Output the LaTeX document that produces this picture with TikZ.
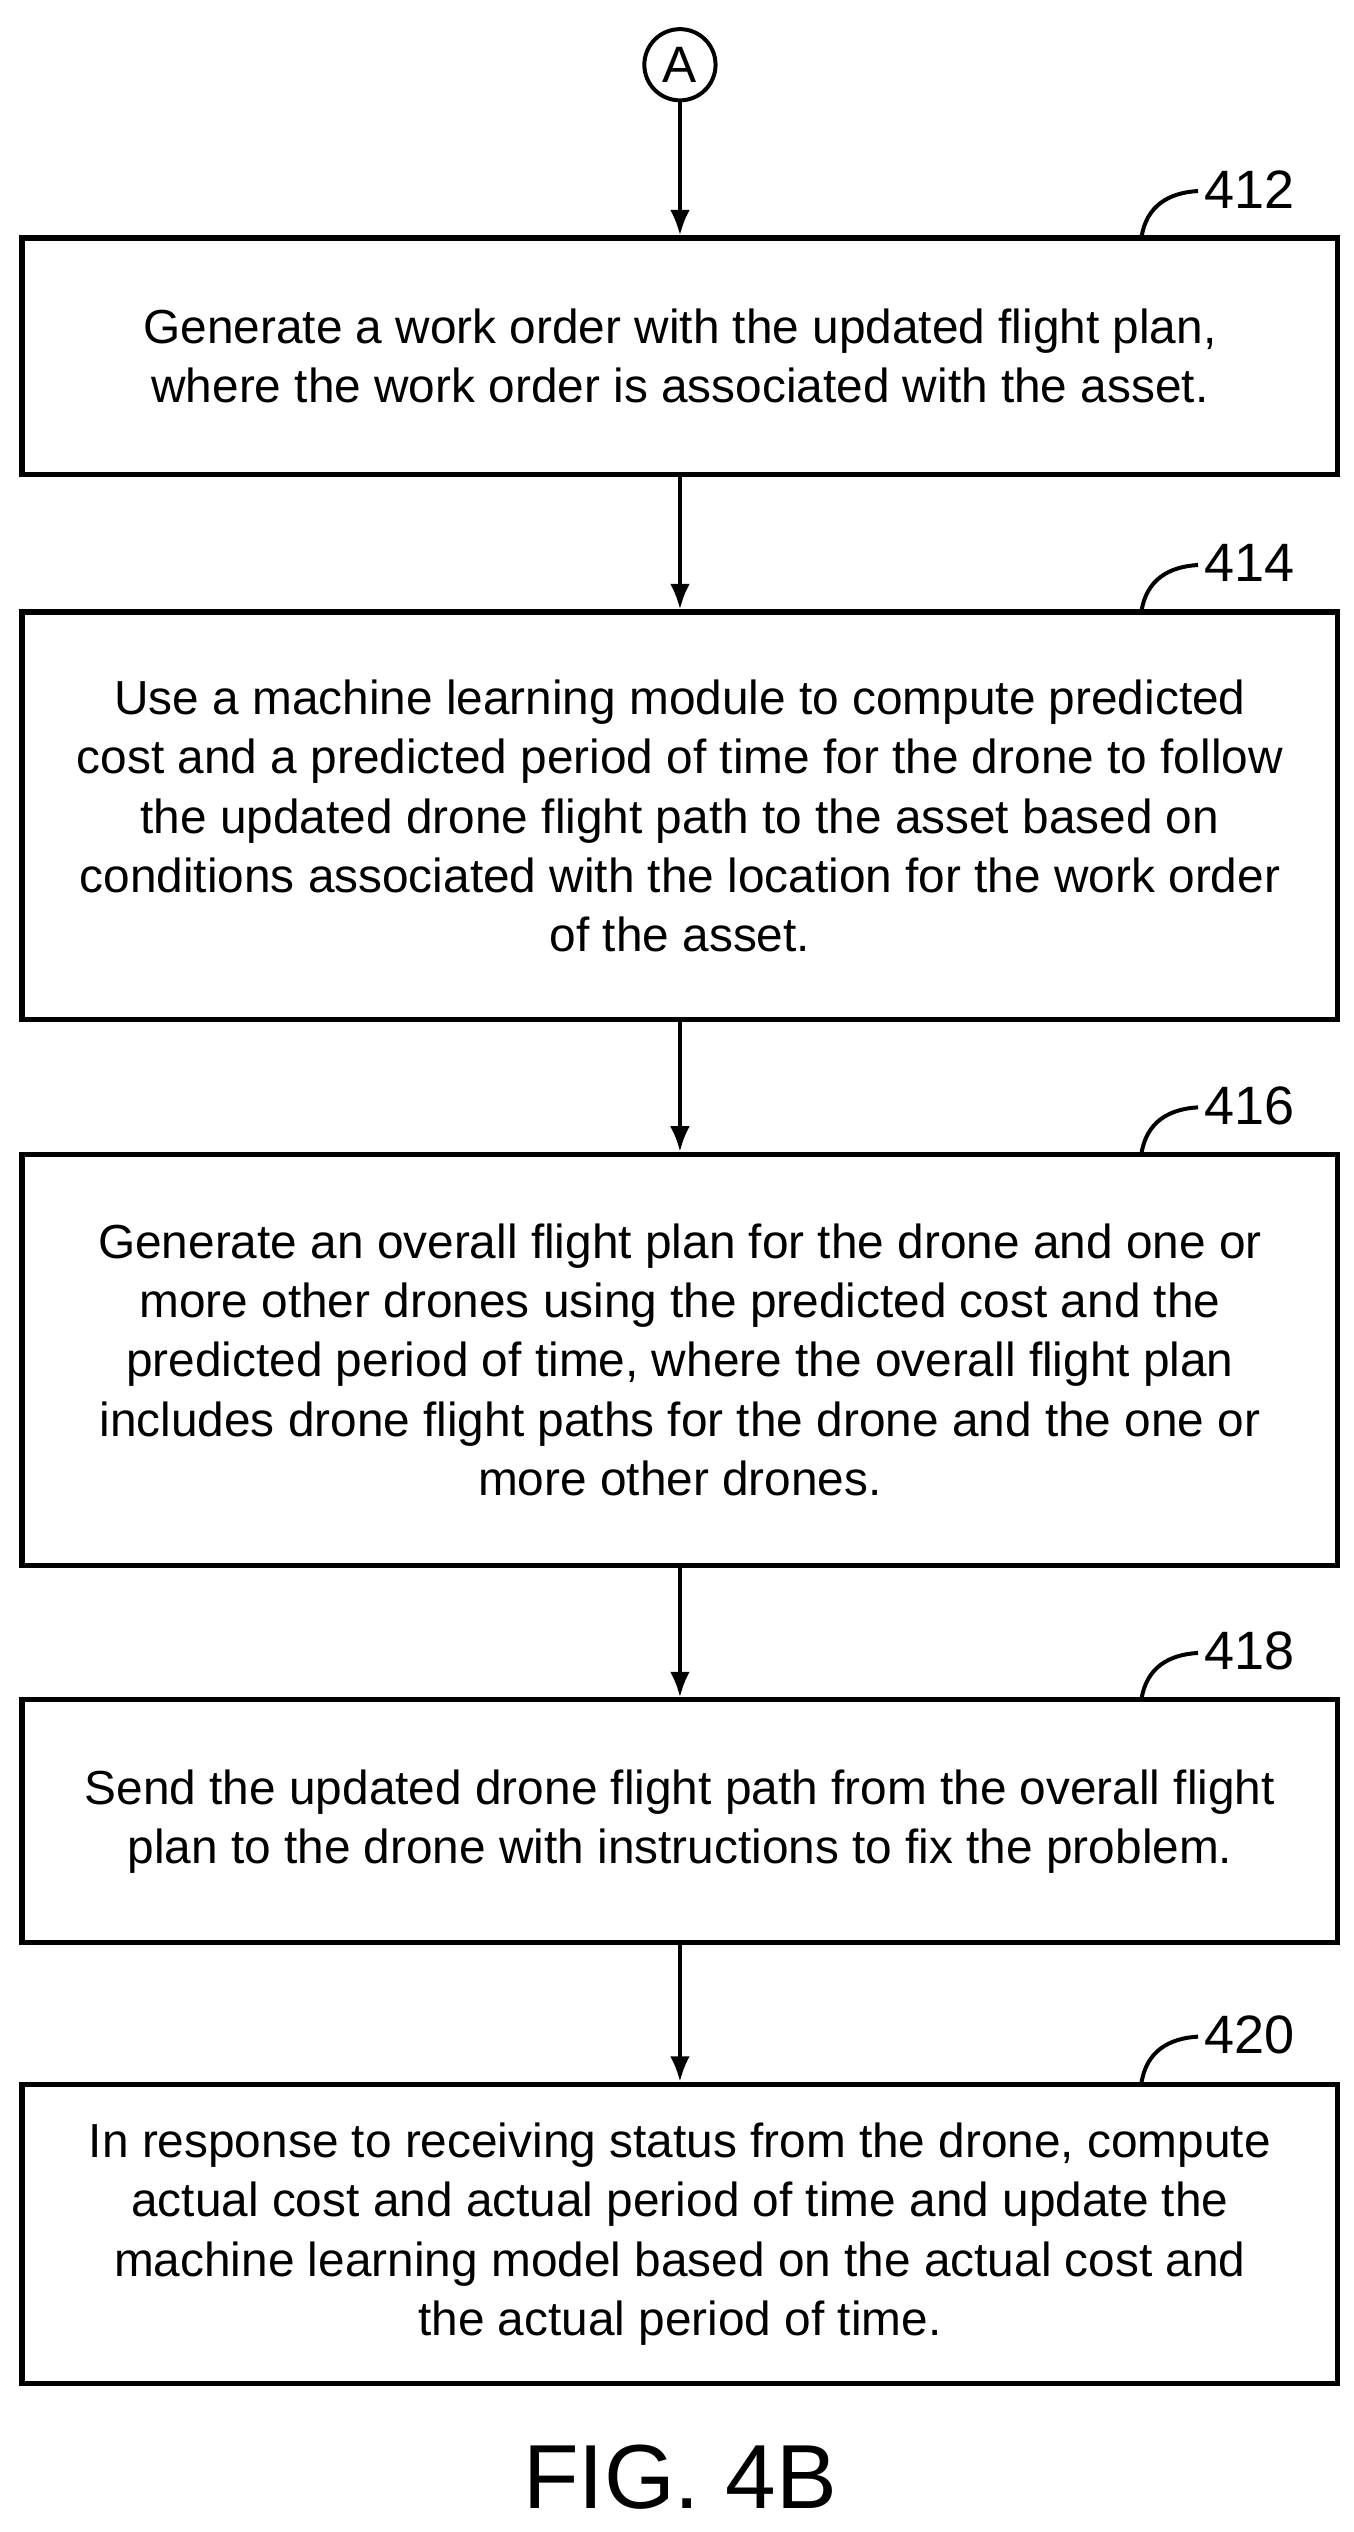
\documentclass[tikz,border=0pt]{standalone}
\usepackage{fontspec}
\setmainfont{Liberation Sans}
\tikzset{
  stepbox/.style={draw,line width=1.8pt,minimum width=16.26cm,align=center,font=\fontsize{16.8}{20.8}\selectfont,inner sep=2pt},
  flow/.style={line width=1.4pt,-{Latex[length=9pt,width=7pt]}},
  reflabel/.style={anchor=west,font=\fontsize{19}{22}\selectfont}
}
\usetikzlibrary{arrows.meta}
\begin{document}
\begin{tikzpicture}[x=0.02cm,y=-0.02cm]
\useasboundingbox (0,0) rectangle (836,1564);
\node[draw,circle,line width=1.4pt,minimum size=0.88cm,inner sep=0pt,font=\fontsize{18}{20}\selectfont] (A) at (420,40) {A};
\node[stepbox,minimum height=2.92cm] (s412) at (420,220) {Generate a work order with the updated flight plan,\\where the work order is associated with the asset.};
\node[stepbox,minimum height=5.04cm] (s414) at (420,504) {Use a machine learning module to compute predicted\\cost and a predicted period of time for the drone to follow\\the updated drone flight path to the asset based on\\conditions associated with the location for the work order\\of the asset.};
\node[stepbox,minimum height=5.08cm] (s416) at (420,840) {Generate an overall flight plan for the drone and one or\\more other drones using the predicted cost and the\\predicted period of time, where the overall flight plan\\includes drone flight paths for the drone and the one or\\more other drones.};
\node[stepbox,minimum height=3.0cm] (s418) at (420,1125) {Send the updated drone flight path from the overall flight\\plan to the drone with instructions to fix the problem.};
\node[stepbox,minimum height=3.7cm] (s420) at (420,1380) {In response to receiving status from the drone, compute\\actual cost and actual period of time and update the\\machine learning model based on the actual cost and\\the actual period of time.};
% connectors
\draw[flow] (A) -- (s412);
\draw[flow] (s412) -- (s414);
\draw[flow] (s414) -- (s416);
\draw[flow] (s416) -- (s418);
\draw[flow] (s418) -- (s420);
% reference numerals
\foreach \n/\y in {412/147,414/378,416/713,418/1050,420/1287}{
  \draw[line width=1.4pt] (705,\y) .. controls (708,\y-20) and (722,\y-28) .. (740,\y-29);
  \node[reflabel] (l\n) at (738,\y-30) {\n};
}
\node[font=\fontsize{32}{40}\selectfont] (cap) at (420,1530) {FIG. 4B};
\end{tikzpicture}
\end{document}
